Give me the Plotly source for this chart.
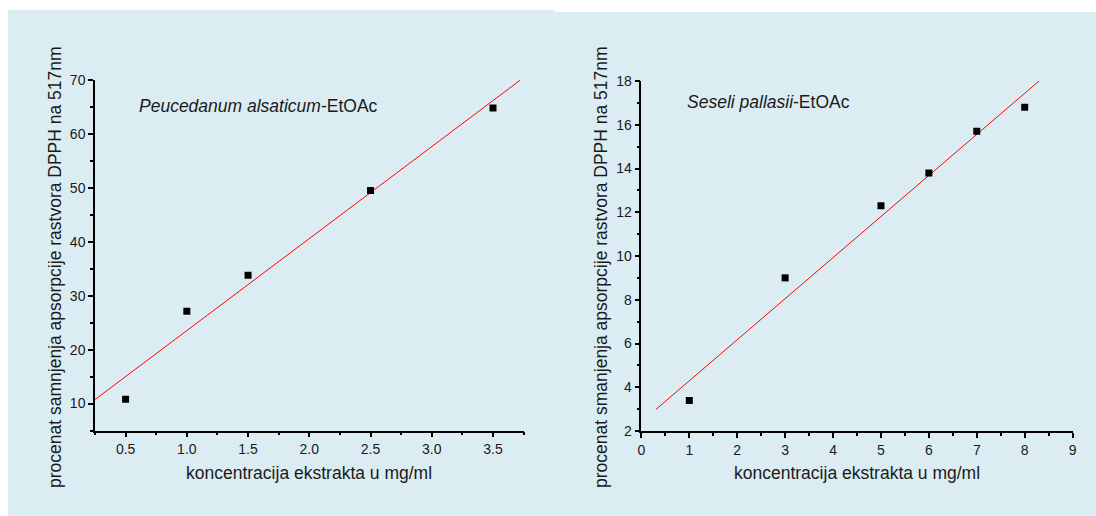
import plotly.graph_objects as go

W, H = 1096, 516

# ---- data ----
left_x = [0.5, 1.0, 1.5, 2.5, 3.5]
left_y = [10.8, 27.1, 33.8, 49.5, 64.8]
left_fit_x = [0.25, 3.724]
left_fit_y = [10.74, 70.0]

right_x = [1, 3, 5, 6, 7, 8]
right_y = [3.4, 9.0, 12.3, 13.8, 15.7, 16.8]
right_fit_x = [0.3, 8.3]
right_fit_y = [2.98, 18.0]

left_label = "<i>Peucedanum alsaticum</i>-EtOAc"
right_label = "<i>Seseli pallasii</i>-EtOAc"
left_ytitle = "procenat samnjenja apsorpcije rastvora DPPH na 517nm"
right_ytitle = "procenat smanjenja apsorpcije rastvora DPPH na 517nm"
xtitle = "koncentracija ekstrakta u mg/ml"

FONT = "Liberation Sans, Arial, sans-serif"
BG = "#dbedf3"
TXT = "#1a1a1a"
TSIZE = 17.5


def fx(x):
    return x / W


def fy(y):
    return 1 - y / H


fig = go.Figure()

fig.add_trace(go.Scatter(x=left_fit_x, y=left_fit_y, mode="lines",
                         line=dict(color="red", width=1), xaxis="x", yaxis="y",
                         showlegend=False))
fig.add_trace(go.Scatter(x=left_x, y=left_y, mode="markers",
                         marker=dict(symbol="square", size=7, color="black"),
                         xaxis="x", yaxis="y", showlegend=False))
fig.add_trace(go.Scatter(x=right_fit_x, y=right_fit_y, mode="lines",
                         line=dict(color="red", width=1), xaxis="x2", yaxis="y2",
                         showlegend=False))
fig.add_trace(go.Scatter(x=right_x, y=right_y, mode="markers",
                         marker=dict(symbol="square", size=7, color="black"),
                         xaxis="x2", yaxis="y2", showlegend=False))

axis_common = dict(
    showgrid=False, zeroline=False, showline=True, linecolor="black",
    linewidth=1.5, ticks="outside", ticklen=5, tickwidth=1.5, tickcolor="black",
    tickfont=dict(family=FONT, size=14, color=TXT), automargin=False,
)

fig.update_layout(
    width=W, height=H,
    margin=dict(l=0, r=0, t=0, b=0),
    paper_bgcolor="white", plot_bgcolor="rgba(0,0,0,0)",
    font=dict(family=FONT, color=TXT),
    xaxis=dict(domain=[fx(95), fx(523.6)], range=[0.25, 3.75], tick0=0.5, dtick=0.5,
               tickformat=".1f", anchor="y",
               minor=dict(dtick=0.25, tick0=0.25, ticks="outside", ticklen=3,
                          tickwidth=1.5, tickcolor="black"),
               **axis_common),
    yaxis=dict(domain=[fy(430.5), fy(80)], range=[5, 70], tick0=10, dtick=10,
               anchor="x",
               minor=dict(dtick=5, tick0=5, ticks="outside", ticklen=3,
                          tickwidth=1.5, tickcolor="black"),
               **axis_common),
    xaxis2=dict(domain=[fx(641.4), fx(1072.6)], range=[0, 9], tick0=0, dtick=1,
                anchor="y2",
                minor=dict(dtick=0.5, tick0=0, ticks="outside", ticklen=3,
                           tickwidth=1.5, tickcolor="black"),
                **axis_common),
    yaxis2=dict(domain=[fy(431), fy(81)], range=[2, 18], tick0=2, dtick=2,
                anchor="x2",
                minor=dict(dtick=1, tick0=2, ticks="outside", ticklen=3,
                           tickwidth=1.5, tickcolor="black"),
                **axis_common),
    shapes=[
        dict(type="rect", xref="paper", yref="paper", x0=fx(8), x1=fx(555),
             y0=0, y1=fy(10), fillcolor=BG, line=dict(width=0), layer="below"),
        dict(type="rect", xref="paper", yref="paper", x0=fx(555), x1=1,
             y0=0, y1=fy(12), fillcolor=BG, line=dict(width=0), layer="below"),
    ],
    annotations=[
        dict(text=left_label, xref="paper", yref="paper", x=fx(137), y=fy(106),
             xanchor="left", yanchor="middle", showarrow=False,
             font=dict(family=FONT, size=TSIZE, color=TXT)),
        dict(text=right_label, xref="paper", yref="paper", x=fx(685), y=fy(102),
             xanchor="left", yanchor="middle", showarrow=False,
             font=dict(family=FONT, size=TSIZE, color=TXT)),
        dict(text=left_ytitle, xref="paper", yref="paper", x=fx(55), y=fy(267),
             xanchor="center", yanchor="middle", textangle=-90, showarrow=False,
             font=dict(family=FONT, size=TSIZE, color=TXT)),
        dict(text=right_ytitle, xref="paper", yref="paper", x=fx(601), y=fy(267),
             xanchor="center", yanchor="middle", textangle=-90, showarrow=False,
             font=dict(family=FONT, size=TSIZE, color=TXT)),
        dict(text=xtitle, xref="paper", yref="paper", x=fx(309), y=fy(473),
             xanchor="center", yanchor="middle", showarrow=False,
             font=dict(family=FONT, size=TSIZE, color=TXT)),
        dict(text=xtitle, xref="paper", yref="paper", x=fx(857), y=fy(473),
             xanchor="center", yanchor="middle", showarrow=False,
             font=dict(family=FONT, size=TSIZE, color=TXT)),
    ],
)

fig.write_html("out.html")
